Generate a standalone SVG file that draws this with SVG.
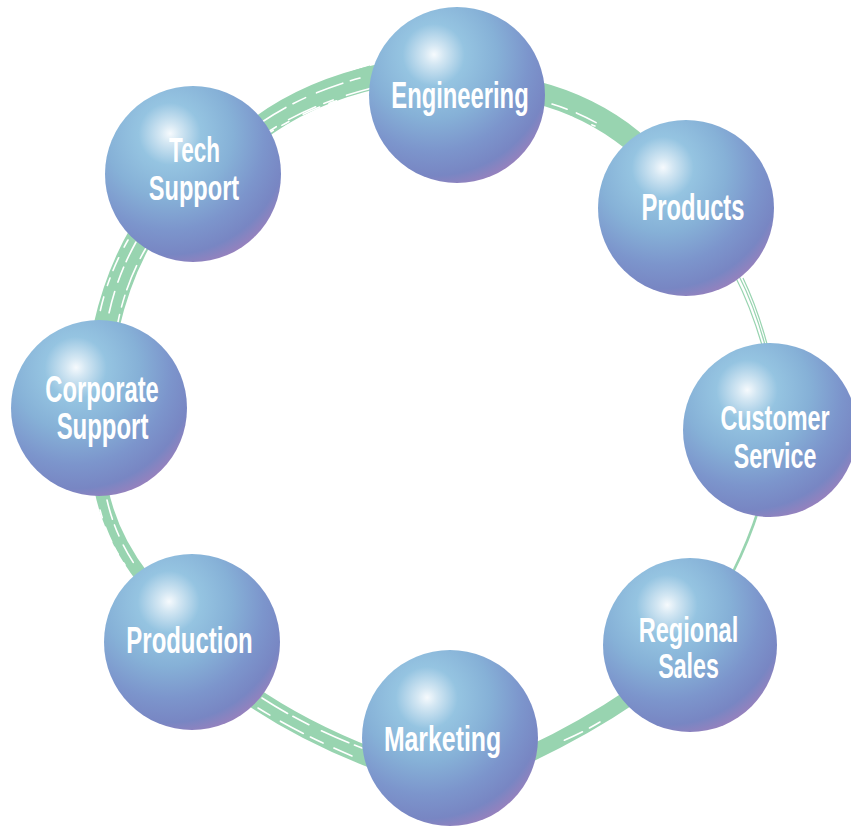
<svg xmlns="http://www.w3.org/2000/svg" width="851" height="829" viewBox="0 0 851 829">
<defs>
<radialGradient id="sph" cx="0.36" cy="0.28" r="0.8" fx="0.37" fy="0.27">
<stop offset="0" stop-color="#f6fafd"/>
<stop offset="0.07" stop-color="#d4e7f3"/>
<stop offset="0.22" stop-color="#95c4e1"/>
<stop offset="0.45" stop-color="#86b1d7"/>
<stop offset="0.68" stop-color="#7c95cc"/>
<stop offset="0.85" stop-color="#7886c3"/>
<stop offset="1" stop-color="#a47fbb"/>
</radialGradient>
</defs>
<style>
.band{fill:none;stroke:#98d4b0;stroke-linecap:round}
.thin{fill:none;stroke:#98d4b0;stroke-width:1.2}
.streak{fill:none;stroke:#ffffff;stroke-width:1.6;stroke-linecap:round}
.ball{fill:url(#sph)}
.lbl{font-family:"Liberation Sans",Arial,sans-serif;font-weight:bold;font-size:36px;fill:#ffffff;text-anchor:middle}
</style>
<rect width="851" height="829" fill="#ffffff"/>
<g id="connectors">
<path class="band" d="M 252 134 Q 305 92 380 76" stroke-width="24"/>
<path class="thin" d="M 246 128 Q 300 86 370 66"/>
<path class="streak" d="M 262 122 Q 305 93 360 78" stroke-dasharray="28 8 14 12"/>
<path class="streak" d="M 268 132 Q 310 104 372 88" stroke-dasharray="10 14 30 9"/>
<path class="streak" d="M 258 140 Q 300 112 345 98" stroke-dasharray="18 10 8 16"/>
<path class="band" d="M 535 92 Q 590 106 632 140" stroke-width="22"/>
<path class="streak" d="M 552 104 Q 585 114 615 134" stroke-dasharray="16 10 22 30"/>
<path class="streak" d="M 548 110 Q 575 118 595 126" stroke-dasharray="8 6 12 20"/>
<path class="thin" d="M 735 276 Q 750 305 762 345"/>
<path class="thin" d="M 739 276 Q 754 305 765 345"/>
<path class="thin" d="M 743 278 Q 757 307 767 344"/>
<path class="band" d="M 759 508 Q 749 540 733 572" stroke-width="2.6"/>
<path class="band" d="M 632 696 Q 585 728 530 754" stroke-width="16"/>
<path class="streak" d="M 600 722 Q 580 734 560 742" stroke-dasharray="12 8 20 40"/>
<path class="band" d="M 246 692 Q 300 730 372 758" stroke-width="20"/>
<path class="streak" d="M 262 698 Q 305 726 362 748" stroke-dasharray="30 6 18 14"/>
<path class="streak" d="M 258 708 Q 300 734 352 756" stroke-dasharray="14 12 26 8"/>
<path class="band" d="M 101 488 Q 110 535 143 578" stroke-width="14"/>
<path class="streak" d="M 107 500 Q 115 535 135 565" stroke-dasharray="20 6 12 10"/>
<path class="streak" d="M 100 510 Q 108 540 125 565" stroke-dasharray="8 10 16 6" stroke-width="1"/>
<path class="band" d="M 142 234 Q 118 275 106 328" stroke-width="26"/>
<path class="streak" d="M 136 242 Q 116 278 108 318" stroke-dasharray="22 6 16 10"/>
<path class="streak" d="M 146 248 Q 126 282 118 322" stroke-dasharray="12 8 26 6"/>
<path class="streak" d="M 128 240 Q 108 275 100 312" stroke-dasharray="8 12 14 8"/>
</g>
<g id="engineering">
<circle class="ball" cx="457" cy="95" r="88"/>
<text class="lbl" transform="translate(460,108) scale(0.66,1)">Engineering</text>
</g>
<g id="products">
<circle class="ball" cx="686" cy="208" r="88"/>
<text class="lbl" transform="translate(693,220) scale(0.66,1)">Products</text>
</g>
<g id="customer-service">
<circle class="ball" cx="770" cy="430" r="87"/>
<text class="lbl" transform="translate(775,430) scale(0.65,1)">Customer</text>
<text class="lbl" transform="translate(775,468) scale(0.645,1)">Service</text>
</g>
<g id="regional-sales">
<circle class="ball" cx="690" cy="645" r="87"/>
<text class="lbl" transform="translate(688.5,642) scale(0.655,1)">Regional</text>
<text class="lbl" transform="translate(688.5,678) scale(0.645,1)">Sales</text>
</g>
<g id="marketing">
<circle class="ball" cx="450" cy="738" r="88"/>
<text class="lbl" transform="translate(442.5,751) scale(0.69,1)">Marketing</text>
</g>
<g id="production">
<circle class="ball" cx="192" cy="642" r="88"/>
<text class="lbl" transform="translate(189.5,653) scale(0.665,1)">Production</text>
</g>
<g id="corporate-support">
<circle class="ball" cx="99" cy="408" r="88"/>
<text class="lbl" transform="translate(102,402) scale(0.66,1)">Corporate</text>
<text class="lbl" transform="translate(102.5,439) scale(0.665,1)">Support</text>
</g>
<g id="tech-support">
<circle class="ball" cx="193" cy="174" r="88"/>
<text class="lbl" transform="translate(194.5,162) scale(0.625,1)">Tech</text>
<text class="lbl" transform="translate(194,200) scale(0.655,1)">Support</text>
</g>
</svg>
